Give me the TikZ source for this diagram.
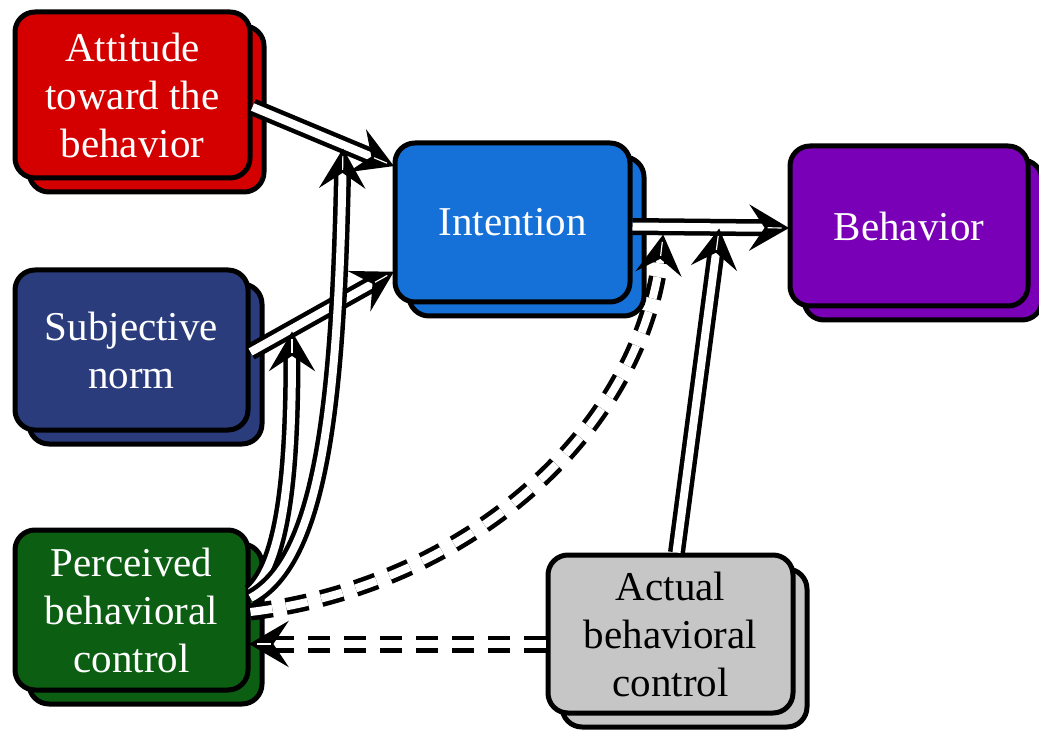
\documentclass[tikz,border=0pt]{standalone}
\usepackage{fontspec}
\setmainfont{Liberation Serif}
\usetikzlibrary{shadows,calc}
\definecolor{cAtt}{HTML}{D40000}
\definecolor{cSN}{HTML}{2A3C7C}
\definecolor{cPBC}{HTML}{0B5E12}
\definecolor{cInt}{HTML}{1570D8}
\definecolor{cBeh}{HTML}{7A00B8}
\definecolor{cAct}{HTML}{C6C6C6}
% arrow head: tip at #1, pointing away from #2
\newcommand\myhead[2]{%
  \path ($(#1)!36pt!(#2)$) coordinate (hb) ($(#1)!22pt!(#2)$) coordinate (hi);
  \filldraw[black, line width=1.5pt, line join=miter] (#1) -- ($(hb)!21pt!90:(#1)$) -- (hi) -- ($(hb)!21pt!-90:(#1)$) -- cycle;
  \draw[white, line width=1.2pt] ($(#1)!6pt!(#2)$) -- ($(#1)!20pt!(#2)$);}
\begin{document}
\begin{tikzpicture}[x=1pt,y=-1pt,
  box/.style={draw=black, line width=5pt, rounded corners=20pt, text=white,
    align=center, font=\fontsize{41}{48}\selectfont, inner sep=0pt,
    copy shadow={shadow xshift=14pt, shadow yshift=-14pt}},
  arr/.style={draw=black, double=white, line width=4.5pt, double distance=8pt,
    shorten >=20pt},
  darr/.style={arr, dash pattern=on 22pt off 14pt}]
\useasboundingbox (0,0) rectangle (1039,735);

\node[box, fill=cAtt, minimum width=235pt, minimum height=166pt] (att) at (132.5,95) {Attitude\\toward the\\behavior};
\node[box, fill=cSN, minimum width=233pt, minimum height=160pt] (sn) at (131.5,350) {Subjective\\norm};
\node[box, fill=cPBC, minimum width=233pt, minimum height=160pt] (pbc) at (131.5,610) {Perceived\\behavioral\\control};
\node[box, fill=cInt, minimum width=235pt, minimum height=159pt] (int) at (512.5,222.5) {Intention};
\node[box, fill=cBeh, minimum width=238pt, minimum height=160pt] (beh) at (909,226) {Behavior};
\node[box, fill=cAct, text=black, minimum width=245pt, minimum height=158pt] (act) at (670.5,634) {Actual\\behavioral\\control};

\coordinate (m1) at (343,150);
\coordinate (m2) at (292,333);
\coordinate (m3) at (663,236);
\coordinate (m4) at (719,230);
\coordinate (a1) at ([yshift=-12pt]att.east);
\coordinate (i1) at ([yshift=57pt]int.west);
\coordinate (s1) at ([yshift=-2pt]sn.east);
\coordinate (i2) at ([yshift=-50pt]int.west);
\coordinate (i3) at ([yshift=-4pt]int.east);
\coordinate (b1) at ([yshift=-2pt]beh.west);
\coordinate (c1) at ([xshift=6pt]act.north);
\coordinate (c2) at ([yshift=-10pt]act.west);
\coordinate (p4) at ([yshift=-34pt]pbc.east);
\coordinate (k2) at (292,450);
\coordinate (k1) at (338,400);
\coordinate (k3) at (640,430);

% double-line shafts
\draw[arr] (a1) -- (i1);
\draw[arr] (s1) -- (i2);
\draw[arr] ([yshift=18pt]pbc.east) .. controls (287,560) and (k2) .. (m2);
\draw[arr] ([yshift=12pt]pbc.east) .. controls (322,560) and (k1) .. (m1);
\draw[arr] (i3) -- (b1);
\draw[arr] (c1) -- (m4);
\draw[darr] ([yshift=-2pt]pbc.east) .. controls (470,585) and (k3) .. (m3);
\draw[darr] (c2) -- (p4);

% arrow heads
\myhead{i1}{a1}
\myhead{i2}{s1}
\myhead{m2}{k2}
\myhead{m1}{k1}
\myhead{b1}{i3}
\myhead{m4}{c1}
\myhead{m3}{k3}
\myhead{p4}{c2}
\end{tikzpicture}
\end{document}
